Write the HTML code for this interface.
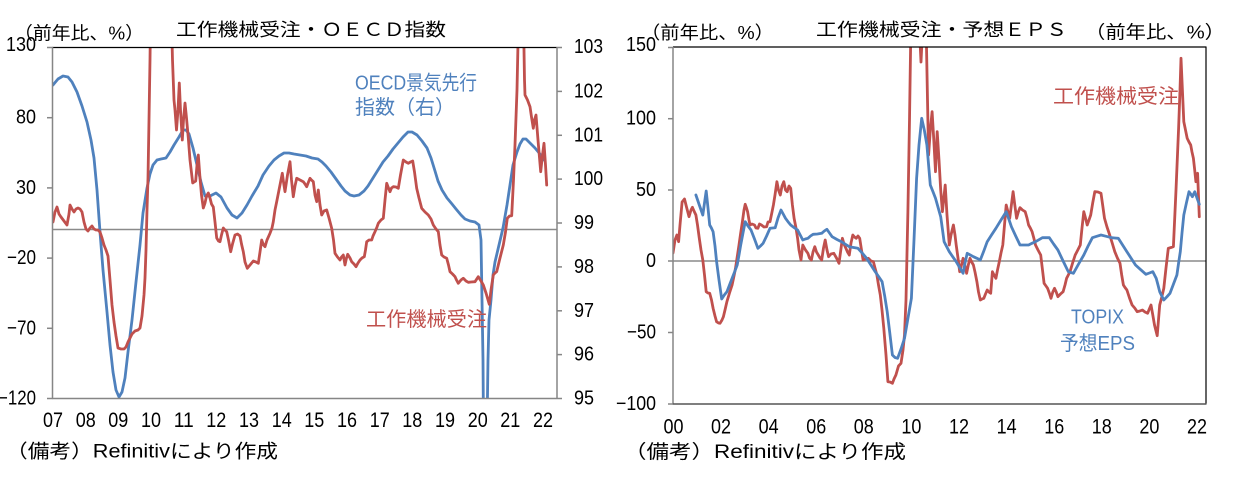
<!DOCTYPE html>
<html><head><meta charset="utf-8">
<style>
html,body{margin:0;padding:0;background:#fff;}
svg{display:block;}
text{font-family:"Liberation Sans","Noto Sans CJK JP",sans-serif;fill:#000;}
</style></head>
<body>
<svg width="1236" height="479" viewBox="0 0 1236 479" xmlns="http://www.w3.org/2000/svg">
<defs>
<clipPath id="cl"><rect x="52.5" y="47.5" width="504.5" height="351"/></clipPath>
<clipPath id="cr"><rect x="673" y="47" width="533" height="357"/></clipPath>
</defs>

<!-- ===== LEFT CHART ===== -->
<text x="176" y="30" font-size="18" dominant-baseline="central" textLength="270" lengthAdjust="spacingAndGlyphs">工作機械受注・ＯＥＣＤ指数</text>
<text x="14" y="33.5" font-size="18" dominant-baseline="central" textLength="130" lengthAdjust="spacingAndGlyphs">（前年比、%）</text>

<line x1="52.5" y1="229.5" x2="557" y2="229.5" stroke="#8a8a8a" stroke-width="1.5"/>

<g clip-path="url(#cl)" fill="none" stroke-width="2.8" stroke-linejoin="round" stroke-linecap="round">
<polyline stroke="#4F81BD" points="53,85 58,79 63,76 68,77 72,82 77,92 82,106 87,122 91,140 94,158 97,190 100,232 103,270 107,312 110,345 113,372 116,390 119,397 122,392 125,378 128,352 132,320 136,282 140,245 143,213 147,188 150,174 153,165 157,160 161,159 166,158 170,152 174,145 179,137 183,130 186,130 189,134 193,148 197,165 201,182 205,196 210,196 216,193 221,197 227,208 232,215 237,218 242,213 247,205 252,196 258,186 263,175 269,166 274,160 279,156 284,153 289,153 294,154 300,155 306,156 312,158 318,159 322,162 326,166 331,172 336,179 341,186 345,191 350,195 354,196 359,195 364,191 368,186 373,178 378,170 383,162 388,156 393,149 398,143 403,137 408,132 412,132 417,135 422,141 427,148 431,158 435,171 438,181 442,190 447,198 452,204 456,209 461,215 465,219 470,221 475,222 479,225 481,240 482,300 483,360 483.5,430 487,430 488,360 489,320 491,300 493,275 495,262 499,245 503,228 507,205 510,185 513,165 517,152 520,144 523,139 526,139 530,143 535,148 540,154 544,160"/>
<polyline stroke="#C0504D" points="53,222 55,212 57,207 59,214 61,217 64,221 67,225 69,214 70,205 72,209 74,212 76,209 78,208 80,209 82,212 84,222 86,229 88,231 90,228 92,226 94,229 96,230 98,230 100,232 102,238 104,245 106,250 108,256 110,280 112,305 114,322 116,336 118,348 121,349 124,349 126,347 128,342 130,338 132,334 135,331 138,330 140,328 142,316 144,295 145,278 146,250 147,210 148,178 149,120 150,60 150.5,20 171.5,20 172.5,60 174,100 175,110 176.5,130 178,110 179.3,83 180.5,110 182.3,140 183.5,120 185,103 186.5,118 188.3,138 190,160 192.7,183 194,182 195.7,181 197,165 198.3,155 200,178 201.5,195 203.3,208 205,203 206.5,196 208.3,193 210,198 211.5,204 213.3,207 215,222 216.7,238 218.5,241 220,241.7 221.5,235 223.3,228 225,230 226.7,231.7 228.5,240 230.7,251.7 232.5,244 235,235 237.5,234 240,236 241.5,244 243.3,251.7 245,262 247.3,268.3 250,265 253.3,261 256,262 258.3,263.3 260,252 261.7,240 263.5,245 265,246.7 267,240 270,233.3 272,228 273.3,221.7 275,210 276.7,201.7 279,190 282.3,173.3 283.5,182 285,191.7 287.5,175 290,161.7 291.5,180 293.3,196.7 295,186 296.7,178.3 300,180 303.3,181.7 305,184 306.7,186.7 308.5,182 310,178.3 311.5,180 313.3,181.7 315,195 316.7,201.7 318.3,190 320,205 321.7,215 324,211 326.7,210 329,218 331.7,228.3 333.5,240 335,253.3 337.5,257 340,260 341.5,257 343.3,255 345,265 346.5,258 347.7,254.3 350,258 351.7,261.7 354,264 356,266.7 358,263 360,260 362,258 364.3,256.7 365.5,250 366.7,241.7 369,240 371.7,240 373,236 375,231.7 377,227 378.3,223.3 381,220 383.3,218.3 385,200 386.7,183.3 388.5,188 390,191.7 391.5,188 393.3,186.7 396,187 398.3,188.3 400.5,175 403.3,160 406,162 408.3,163.3 410.5,162 412.7,161 414.5,172 416.7,188.3 419,198 421.7,208.3 425,212 428.3,215 431,219 433.3,225 436,229 438.3,231.7 440,245 441.7,255 444,257 446.7,258.3 448.5,265 450,271.7 452.5,274 455,276.7 456.5,280 458.3,283.3 461,280 463.3,278.3 466,281 468.3,282.3 471,282 475,281.7 478.3,276.7 481,281 483.3,285 486,293 489.3,304.3 491,290 493.3,275 495,273 496.7,271.7 500,258 503.3,245 505.5,232 507.3,218.3 509.5,216 511.7,215.7 513.5,180 515,145 517,90 518.5,20 523.5,20 524.5,80 525,95 527.5,100 530,106.7 531.5,117 533.3,128.3 534.5,120 536,115 538,140 540.7,171.7 542.5,155 544,143.3 545.5,165 546.7,185"/>
</g>

<!-- frame left chart -->
<line x1="52" y1="47.5" x2="557" y2="47.5" stroke="#000" stroke-width="1.2"/>
<line x1="52.5" y1="47" x2="52.5" y2="399" stroke="#868686" stroke-width="1.5"/>
<line x1="557" y1="47" x2="557" y2="399" stroke="#868686" stroke-width="1.5"/>
<line x1="52" y1="398.5" x2="557" y2="398.5" stroke="#868686" stroke-width="1.5"/>
<g stroke="#868686" stroke-width="1.5">
<line x1="47" y1="47.5" x2="52.5" y2="47.5"/><line x1="47" y1="117.7" x2="52.5" y2="117.7"/><line x1="47" y1="187.9" x2="52.5" y2="187.9"/><line x1="47" y1="258.1" x2="52.5" y2="258.1"/><line x1="47" y1="328.3" x2="52.5" y2="328.3"/><line x1="47" y1="398.5" x2="52.5" y2="398.5"/>
<line x1="557" y1="47.5" x2="562" y2="47.5"/><line x1="557" y1="91.4" x2="562" y2="91.4"/><line x1="557" y1="135.3" x2="562" y2="135.3"/><line x1="557" y1="179.1" x2="562" y2="179.1"/><line x1="557" y1="223" x2="562" y2="223"/><line x1="557" y1="266.9" x2="562" y2="266.9"/><line x1="557" y1="310.8" x2="562" y2="310.8"/><line x1="557" y1="354.6" x2="562" y2="354.6"/><line x1="557" y1="398.5" x2="562" y2="398.5"/>
</g>
<g font-size="20" dominant-baseline="central">
<text x="6" y="45" textLength="30" lengthAdjust="spacingAndGlyphs">130</text>
<text x="16" y="117.7" textLength="20" lengthAdjust="spacingAndGlyphs">80</text>
<text x="16" y="187.9" textLength="20" lengthAdjust="spacingAndGlyphs">30</text>
<text x="7" y="258.1" textLength="29" lengthAdjust="spacingAndGlyphs">−20</text>
<text x="7" y="328.3" textLength="29" lengthAdjust="spacingAndGlyphs">−70</text>
<text x="-2" y="398.5" textLength="38" lengthAdjust="spacingAndGlyphs">−120</text>
</g>
<g font-size="20" dominant-baseline="central">
<text x="574" y="47" textLength="29" lengthAdjust="spacingAndGlyphs">103</text><text x="574" y="91.4" textLength="29" lengthAdjust="spacingAndGlyphs">102</text><text x="574" y="135.3" textLength="29" lengthAdjust="spacingAndGlyphs">101</text><text x="574" y="179.1" textLength="29" lengthAdjust="spacingAndGlyphs">100</text><text x="574" y="223" textLength="20" lengthAdjust="spacingAndGlyphs">99</text><text x="574" y="266.9" textLength="20" lengthAdjust="spacingAndGlyphs">98</text><text x="574" y="310.8" textLength="20" lengthAdjust="spacingAndGlyphs">97</text><text x="574" y="354.6" textLength="20" lengthAdjust="spacingAndGlyphs">96</text><text x="574" y="398.5" textLength="20" lengthAdjust="spacingAndGlyphs">95</text>
</g>
<g font-size="21" dominant-baseline="central">
<text x="43" y="420.5" textLength="20" lengthAdjust="spacingAndGlyphs">07</text><text x="75.7" y="420.5" textLength="20" lengthAdjust="spacingAndGlyphs">08</text><text x="108.3" y="420.5" textLength="20" lengthAdjust="spacingAndGlyphs">09</text><text x="141" y="420.5" textLength="20" lengthAdjust="spacingAndGlyphs">10</text><text x="173.7" y="420.5" textLength="20" lengthAdjust="spacingAndGlyphs">11</text><text x="206.3" y="420.5" textLength="20" lengthAdjust="spacingAndGlyphs">12</text><text x="239" y="420.5" textLength="20" lengthAdjust="spacingAndGlyphs">13</text><text x="271.7" y="420.5" textLength="20" lengthAdjust="spacingAndGlyphs">14</text><text x="304.3" y="420.5" textLength="20" lengthAdjust="spacingAndGlyphs">15</text><text x="337" y="420.5" textLength="20" lengthAdjust="spacingAndGlyphs">16</text><text x="369.7" y="420.5" textLength="20" lengthAdjust="spacingAndGlyphs">17</text><text x="402.3" y="420.5" textLength="20" lengthAdjust="spacingAndGlyphs">18</text><text x="435" y="420.5" textLength="20" lengthAdjust="spacingAndGlyphs">19</text><text x="467.7" y="420.5" textLength="20" lengthAdjust="spacingAndGlyphs">20</text><text x="500.3" y="420.5" textLength="20" lengthAdjust="spacingAndGlyphs">21</text><text x="533" y="420.5" textLength="20" lengthAdjust="spacingAndGlyphs">22</text>
</g>
<text x="355" y="83.5" font-size="20" dominant-baseline="central" style="fill:#4F81BD" textLength="122" lengthAdjust="spacingAndGlyphs">OECD景気先行</text>
<text x="355" y="108" font-size="20" dominant-baseline="central" style="fill:#4F81BD" textLength="100" lengthAdjust="spacingAndGlyphs">指数（右）</text>
<text x="366" y="320" font-size="20" dominant-baseline="central" style="fill:#C0504D" textLength="121" lengthAdjust="spacingAndGlyphs">工作機械受注</text>
<text x="6" y="452" font-size="19" dominant-baseline="central" textLength="272" lengthAdjust="spacingAndGlyphs">（備考）Refinitivにより作成</text>

<!-- ===== RIGHT CHART ===== -->
<text x="816" y="30" font-size="18" dominant-baseline="central" textLength="251" lengthAdjust="spacingAndGlyphs">工作機械受注・予想ＥＰＳ</text>
<text x="641" y="33" font-size="18" dominant-baseline="central" textLength="133" lengthAdjust="spacingAndGlyphs">（前年比、%）</text>
<text x="1085" y="32.5" font-size="18" dominant-baseline="central" textLength="140" lengthAdjust="spacingAndGlyphs">（前年比、%）</text>

<line x1="673" y1="261" x2="1206" y2="261" stroke="#8a8a8a" stroke-width="1.5"/>

<g clip-path="url(#cr)" fill="none" stroke-width="2.8" stroke-linejoin="round" stroke-linecap="round">
<polyline stroke="#C0504D" points="673,253 675,240 676.9,235 678.6,241.7 680,225 682.1,202 684.5,199 686.5,207 689,216.7 691,210 692.4,207.3 694,211 695.9,215 697.5,225 699.3,238.3 701,250 702.8,260 704.5,275 706.2,291.7 708,293 709.7,293.3 711.5,300 713.1,308.3 715,316 716.6,321.7 718.5,323 720,323.3 722,320 723.4,316.7 725,310 726.9,301.7 729.5,293 732.1,285 734,276 735.5,268.3 737.2,257 739,245 740.7,233 742.4,221.7 744,210 745.2,204.3 746.5,208 747.6,211.7 749,220 750,225 752,224 754.5,225 756,228 757.9,228.3 759.5,224 761.4,225 764,227 766.6,226.7 768,222 770,221.7 772,212 773.4,205 775,195 776.9,181.7 778.5,190 780.3,195 782,186 783.8,181.7 785.5,190 787.2,191.7 789,186 790.7,188.3 792.4,205 794.1,218.3 796,228 797.6,238.3 799,250 801,260 802.8,245 805.5,250 807.9,253.3 809.5,258 811.4,260 813,252 814.8,246.7 816.5,252 818.3,255 820,258 821.7,260 823.5,248 825.2,240 827,250 828.6,256.7 831,254 833.8,253.3 836.5,258 839,263.3 840.8,250 842.4,238.3 844,244 845.9,248.3 847.5,252 849.3,255 851,243 852.8,235 854.5,237 856.2,238.3 858,236 859.7,238.3 861.5,250 863.1,260 865.5,259 868.3,258.3 871,261 873.4,261.7 875,268 876.9,275 878.5,285 880.3,295 882,310 883.8,328.3 886,355 887.9,381.7 890,382 892.4,383.3 894,379 895.9,375 898.5,366 901,363.3 903,350 904.5,335 906,300 907.9,211.7 909.5,120 911,20 919,20 921,62 923,20 926,20 927.5,100 928.6,155 930.3,130 932.1,111.7 933.8,140 935.5,171.7 937.2,131.7 939,160 940.7,190 942.4,211.7 945.2,185 947,215 949.3,245 951,235 953.4,225 955,235 956.2,245 958,258 959.7,271.7 961.5,265 963.1,258.3 965,266 966.6,273.3 968.3,265 970,258.3 971.7,262 973.4,265 975,272 976.9,281.7 978.5,292 980.3,300 982,299 983.8,298.3 985.5,294 987.2,290 988.9,292 990.7,293.3 992.4,271.7 994,275 995.9,278.3 997.5,270 999.3,261.7 1001,253 1002.8,245 1004.5,225 1006.2,205 1008,212 1009.7,218.3 1011.4,205 1013.1,191.7 1014.8,205 1016.6,218.3 1018.3,212 1020,207.7 1022.5,210 1025.2,211.7 1027,218 1028.6,225 1030.3,228 1032.1,231.7 1033.8,238 1035.5,245 1038,250 1040.7,255 1042.5,270 1044.1,283.3 1046,286 1047.6,288.3 1049.3,293 1051,298.3 1052.8,292 1054.5,288.3 1056.2,292 1057.9,296.7 1060.5,294 1063.1,291.7 1065,285 1066.6,278.3 1068.3,275 1070,271.7 1072.6,263 1075.2,255 1077.8,250 1080.3,245 1082,228 1083.8,211.7 1085.5,218 1087.2,225 1089,220 1090.7,215 1092.7,203 1094.8,191.7 1098,192 1101,193.3 1102.8,206 1104.5,218.3 1107,227 1109.7,235 1112.2,243 1114.8,251.7 1117.4,258 1120,263.3 1121.7,275 1123.4,285 1125,287.5 1126.9,290 1129.5,298 1132.1,305 1134.7,308 1137.2,311.7 1139.8,311 1142.4,310 1145,312 1147.6,313.3 1149.3,309 1151,305 1152.8,315 1154.5,325 1157.2,335.7 1159.7,305 1161.8,297 1163.8,288.3 1166,268 1168.3,248.3 1171,247.5 1173.4,246.7 1176,190 1178.6,128.3 1180,90 1181,58.3 1182.4,90 1183.8,121.7 1185.5,130 1187.2,138.3 1189,142 1190.7,145 1192,152 1193.4,158.3 1194.7,170 1195.9,181.7 1197.6,173.3 1199.3,216.7"/>
<polyline stroke="#4F81BD" points="695.9,195 699.3,205 702.8,215 704.5,203 706.2,191 708,208 709.7,225 711.4,228 713.1,231.7 715,246 716.6,261.7 719,280 721.7,299 724.3,295 726.9,291.7 729.5,285 732.1,278.3 734.7,271.6 737.2,265 739,255 740.7,245 743,233 745.2,221.7 748,226 751,230 754.5,239 757.9,248.3 760.5,246 763.1,243.3 766.6,236 770,228.3 772.6,228 775.2,227.7 778,218 781,210 783.2,214 785.5,218.3 788,221.7 790.7,225 794,227.5 797.6,230 800.2,235 802.8,240 805.3,239 807.9,238.3 810.5,236 813.1,234.3 817.4,234 821.7,233.3 824.3,231 826.9,229.3 829.5,233 832.1,236.7 837,239.5 842.4,242.3 845.8,244.5 849.3,246.7 853.6,247.5 857.9,248.3 862.2,253 866.6,258.3 870.9,265 875.2,271.7 878.7,276.7 882.1,281.7 884.7,296 887.2,311.7 889.8,333 892.4,355 895,357.5 897.6,358.3 901,349 904.5,338.3 908,318 911.4,298.3 914,240 916.6,178.3 919,145 921.7,118.3 924.3,130 926.9,145 928.6,165 930.3,185 932.9,191.5 935.5,198.3 938.1,207.5 940.7,216.7 942.4,229 944.1,241.7 946.7,246.7 949.3,251.7 952.7,256.7 956.2,261.7 959.6,267.5 963.1,273.3 965,263 967.2,253.3 970.3,255 973.4,256.7 976.9,258.3 980.3,260 983.8,251 987.2,241.7 991.5,235 995.9,228.3 1001,220 1006.2,211.7 1008.8,219 1011.4,226.7 1015.7,236 1020,245 1024.3,245 1028.6,245 1032,243.3 1035.5,241.7 1039,239.7 1042.4,237.7 1045.8,237.7 1049.3,237.7 1053.6,244 1057.9,250 1063.1,261 1068.3,271.7 1070.9,272.5 1073.4,273.3 1078.6,264 1083.8,255 1088.1,246 1092.4,237.7 1096.7,236.3 1101,235 1106.2,236.3 1111.4,237.7 1114.8,238 1118.3,238.3 1122.6,245 1126.9,251.7 1131.2,258.4 1135.5,265 1140.7,269.7 1145.9,274.3 1149.4,273 1152.8,271.7 1154.5,275 1156.2,278.3 1158,285 1159.7,291.7 1161.8,296 1163.8,300 1167,296.7 1170,293.3 1173.5,284 1176.9,275 1178.6,263 1180.3,251.7 1182,233 1183.8,215 1186.4,203 1189,191.7 1190.7,194 1192.4,196.7 1193.6,194 1194.8,191.7 1197,198 1199.3,204.3"/>
</g>

<line x1="673" y1="47" x2="1206.5" y2="47" stroke="#000" stroke-width="1.2"/>
<line x1="1206" y1="47" x2="1206" y2="404" stroke="#000" stroke-width="1.2"/>
<line x1="673" y1="47" x2="673" y2="404.5" stroke="#868686" stroke-width="1.5"/>
<line x1="672.5" y1="404" x2="1206.5" y2="404" stroke="#555" stroke-width="1.5"/>
<g stroke="#868686" stroke-width="1.5">
<line x1="668" y1="47.5" x2="673" y2="47.5"/><line x1="668" y1="118.7" x2="673" y2="118.7"/><line x1="668" y1="190" x2="673" y2="190"/><line x1="668" y1="261" x2="673" y2="261"/><line x1="668" y1="332.5" x2="673" y2="332.5"/><line x1="668" y1="404" x2="673" y2="404"/>
</g>
<g font-size="20" dominant-baseline="central">
<text x="626" y="45" textLength="30" lengthAdjust="spacingAndGlyphs">150</text>
<text x="626" y="118.7" textLength="30" lengthAdjust="spacingAndGlyphs">100</text>
<text x="636" y="190" textLength="20" lengthAdjust="spacingAndGlyphs">50</text>
<text x="646" y="261" textLength="10" lengthAdjust="spacingAndGlyphs">0</text>
<text x="627" y="332.5" textLength="29" lengthAdjust="spacingAndGlyphs">−50</text>
<text x="616" y="404" textLength="40" lengthAdjust="spacingAndGlyphs">−100</text>
</g>
<g font-size="21" dominant-baseline="central">
<text x="663.5" y="427" textLength="20" lengthAdjust="spacingAndGlyphs">00</text><text x="711" y="427" textLength="20" lengthAdjust="spacingAndGlyphs">02</text><text x="758.6" y="427" textLength="20" lengthAdjust="spacingAndGlyphs">04</text><text x="806.2" y="427" textLength="20" lengthAdjust="spacingAndGlyphs">06</text><text x="853.8" y="427" textLength="20" lengthAdjust="spacingAndGlyphs">08</text><text x="901.4" y="427" textLength="20" lengthAdjust="spacingAndGlyphs">10</text><text x="949" y="427" textLength="20" lengthAdjust="spacingAndGlyphs">12</text><text x="996.6" y="427" textLength="20" lengthAdjust="spacingAndGlyphs">14</text><text x="1044.2" y="427" textLength="20" lengthAdjust="spacingAndGlyphs">16</text><text x="1091.8" y="427" textLength="20" lengthAdjust="spacingAndGlyphs">18</text><text x="1139.4" y="427" textLength="20" lengthAdjust="spacingAndGlyphs">20</text><text x="1187" y="427" textLength="20" lengthAdjust="spacingAndGlyphs">22</text>
</g>
<text x="1053" y="97" font-size="20" dominant-baseline="central" style="fill:#C0504D" textLength="126" lengthAdjust="spacingAndGlyphs">工作機械受注</text>
<text x="1071" y="317.5" font-size="20" dominant-baseline="central" style="fill:#4F81BD" textLength="53" lengthAdjust="spacingAndGlyphs">TOPIX</text>
<text x="1060" y="344" font-size="20" dominant-baseline="central" style="fill:#4F81BD" textLength="75" lengthAdjust="spacingAndGlyphs">予想EPS</text>
<text x="624" y="452.5" font-size="19" dominant-baseline="central" textLength="282" lengthAdjust="spacingAndGlyphs">（備考）Refinitivにより作成</text>
</svg>
</body></html>
